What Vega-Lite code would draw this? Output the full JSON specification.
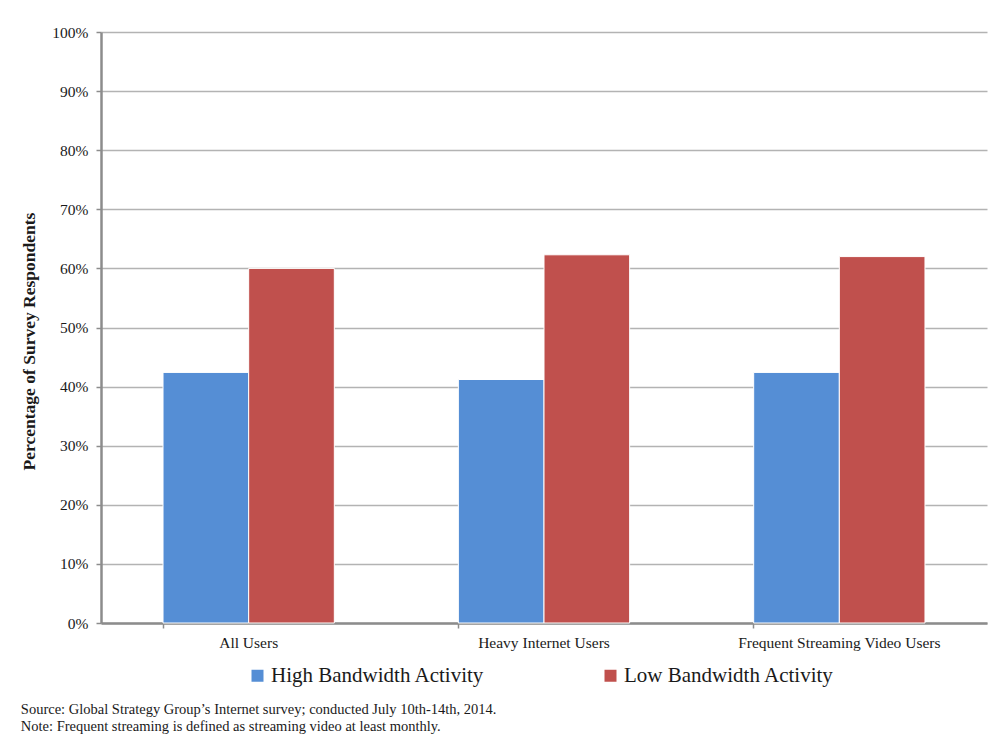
{
  "$schema": "https://vega.github.io/schema/vega-lite/v6.json",
  "width": 886,
  "height": 591,
  "padding": {"left": 20, "top": 25, "right": 10, "bottom": 2},
  "background": "white",
  "data": {
    "values": [
      {"group": "All Users", "activity": "High Bandwidth Activity", "pct": 0.424},
      {"group": "All Users", "activity": "Low Bandwidth Activity", "pct": 0.600},
      {"group": "Heavy Internet Users", "activity": "High Bandwidth Activity", "pct": 0.412},
      {"group": "Heavy Internet Users", "activity": "Low Bandwidth Activity", "pct": 0.623},
      {"group": "Frequent Streaming Video Users", "activity": "High Bandwidth Activity", "pct": 0.424},
      {"group": "Frequent Streaming Video Users", "activity": "Low Bandwidth Activity", "pct": 0.620}
    ]
  },
  "title": {
    "text": ["Source: Global Strategy Group’s Internet survey; conducted July 10th-14th, 2014.", "Note: Frequent streaming is defined as streaming video at least monthly."],
    "orient": "bottom",
    "anchor": "start",
    "frame": "bounds",
    "font": "Liberation Serif",
    "fontSize": 14.5,
    "fontWeight": "normal",
    "color": "#1a1a1a",
    "lineHeight": 17,
    "offset": 17
  },
  "mark": {"type": "bar", "stroke": "white", "strokeWidth": 1},
  "encoding": {
    "x": {
      "field": "group",
      "type": "nominal",
      "sort": ["All Users", "Heavy Internet Users", "Frequent Streaming Video Users"],
      "scale": {"paddingInner": 0.42, "paddingOuter": 0.21},
      "axis": {
        "title": null,
        "labelAngle": 0,
        "labelFont": "Liberation Serif",
        "labelFontSize": 15.5,
        "labelColor": "#1a1a1a",
        "labelPadding": 7,
        "labelLimit": 400,
        "domainColor": "#8c8c8c",
        "domainWidth": 2.5,
        "tickColor": "#8c8c8c",
        "tickSize": 5,
        "tickWidth": 1.5,
        "bandPosition": 0,
        "grid": false
      }
    },
    "xOffset": {
      "field": "activity",
      "type": "nominal",
      "sort": ["High Bandwidth Activity", "Low Bandwidth Activity"],
      "scale": {"paddingInner": 0, "paddingOuter": 0}
    },
    "y": {
      "field": "pct",
      "type": "quantitative",
      "scale": {"domain": [0, 1]},
      "axis": {
        "title": "Percentage of Survey Respondents",
        "titleFont": "Liberation Serif",
        "titleFontSize": 17.5,
        "titleFontWeight": "bold",
        "titleColor": "#1a1a1a",
        "titlePadding": 13,
        "titleY": 309,
        "format": ".0%",
        "values": [0, 0.1, 0.2, 0.3, 0.4, 0.5, 0.6, 0.7, 0.8, 0.9, 1.0],
        "labelOverlap": false,
        "labelFont": "Liberation Serif",
        "labelFontSize": 15.5,
        "labelColor": "#1a1a1a",
        "labelPadding": 8,
        "domainColor": "#8c8c8c",
        "domainWidth": 2.5,
        "tickColor": "#8c8c8c",
        "tickSize": 5,
        "tickWidth": 1.5,
        "gridColor": "#b3b3b3",
        "gridWidth": 1.5
      }
    },
    "color": {
      "field": "activity",
      "type": "nominal",
      "sort": ["High Bandwidth Activity", "Low Bandwidth Activity"],
      "scale": {"range": ["#558ED5", "#C0504D"]},
      "legend": {
        "title": null,
        "orient": "none",
        "legendX": 146,
        "legendY": 633,
        "direction": "horizontal",
        "symbolType": "square",
        "symbolSize": 144,
        "symbolStrokeWidth": 0,
        "labelFont": "Liberation Serif",
        "labelFontSize": 21,
        "labelColor": "#1a1a1a",
        "labelOffset": 3,
        "labelLimit": 400,
        "columnPadding": 115
      }
    }
  },
  "config": {
    "view": {"stroke": null}
  }
}
